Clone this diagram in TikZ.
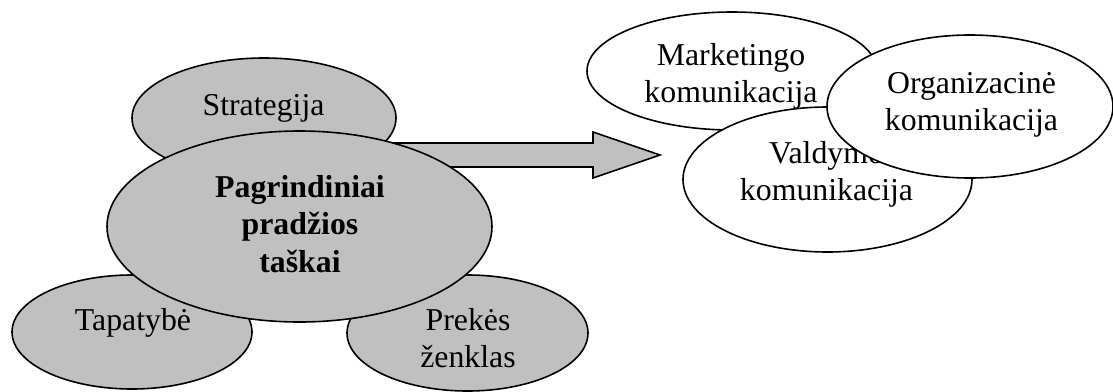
\documentclass[tikz,border=0pt]{standalone}
\usepackage{fontspec}
\setmainfont{Liberation Serif}
\usetikzlibrary{shapes.geometric}
\definecolor{fillgray}{RGB}{192,192,192}
\begin{document}
\begin{tikzpicture}[x=1pt,y=-1pt,
  ell/.style={ellipse, draw=black, line width=1.6pt, inner sep=0pt},
  grayell/.style={ell, fill=fillgray},
  whiteell/.style={ell, fill=white},
  lbl/.style={anchor=base, inner sep=0pt, font=\fontsize{31.8}{37}\selectfont},
  blockarrow/.style={draw=black, fill=fillgray, line width=1.6pt, line join=miter},
  ]
\useasboundingbox (0,0) rectangle (1113,391);
% block arrow (behind the left ellipses)
\coordinate (arrowtail) at (350,155);
\coordinate (arrowtip) at (660,155);
\draw[blockarrow] ([yshift=12pt]arrowtail) -- ([xshift=-67pt,yshift=12pt]arrowtip)
  -- ([xshift=-67pt,yshift=23pt]arrowtip) -- (arrowtip)
  -- ([xshift=-67pt,yshift=-23pt]arrowtip) -- ([xshift=-67pt,yshift=-12pt]arrowtip)
  -- ([yshift=-12pt]arrowtail) -- cycle;
% left group
\node[grayell, minimum width=264pt, minimum height=120pt] (strat) at (264,118) {};
\node[grayell, minimum width=240pt, minimum height=114pt] (tapat) at (132,332) {};
\node[grayell, minimum width=241pt, minimum height=116pt] (preke) at (467.5,333) {};
\node[grayell, minimum width=385pt, minimum height=191pt] (pagr) at (299.5,226.5) {};
\node[lbl] (stratT) at (263.5,115) {Strategija};
\node[lbl] (tapatT) at (133,330) {Tapatybė};
\node[lbl] (prekeT) at (468,330) {\begin{tabular}[t]{@{}c@{}}Prekės\\ženklas\end{tabular}};
\node[lbl, font=\fontsize{31.8}{37.5}\selectfont\bfseries] (pagrT) at (300,197) {\begin{tabular}[t]{@{}c@{}}Pagrindiniai\\pradžios\\taškai\end{tabular}};
% right group
\node[whiteell, minimum width=290pt, minimum height=118pt] (mark) at (732,71) {};
\node[lbl] (markT) at (731,65) {\begin{tabular}[t]{@{}c@{}}Marketingo\\komunikacija\end{tabular}};
\node[whiteell, minimum width=289pt, minimum height=145pt] (vald) at (827.5,179.5) {};
\node[lbl] (valdT) at (826.5,163) {\begin{tabular}[t]{@{}c@{}}Valdymo\\komunikacija\end{tabular}};
\node[whiteell, minimum width=286pt, minimum height=143pt] (org) at (970,106.5) {};
\node[lbl] (orgT) at (971.5,93) {\begin{tabular}[t]{@{}c@{}}Organizacinė\\komunikacija\end{tabular}};
\end{tikzpicture}
\end{document}
